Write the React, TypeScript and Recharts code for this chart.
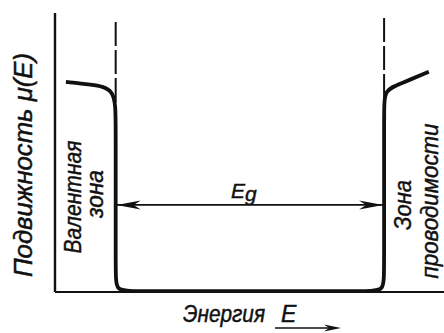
import { ComposedChart, Line, XAxis, YAxis, ReferenceLine } from "recharts";

// mobility curve control points (energy in arbitrary units 0..100)
const energy = [2.8, 9.0, 15.6, 15.6, 15.6, 15.6, 20.1, 80.2, 84.6, 84.6, 84.6, 84.6, 88.7, 96.1];
const mobility = [75.3, 74.4, 73.1, 61.6, 6.8, 0.3, 0.3, 0.3, 0.3, 6.8, 65.2, 72.4, 74.6, 78.9];

// valence band top / conduction band bottom
const bandEdges = [15.6, 84.6];
const dashTops = [96.8, 98.2];
const gapLevel = 31.2;

const data = energy.map((e, i) => ({ energy: e, mu: mobility[i] }));

const INK = "#111";
const FONT = "'Liberation Sans', 'DejaVu Sans', sans-serif";
const textStyle = {
  fontFamily: FONT,
  fontStyle: "italic" as const,
  fill: INK,
  stroke: INK,
  strokeWidth: 0.45,
};

function GapArrow(props: any) {
  const { x1, y1, x2, y2 } = props;
  const y = (y1 + y2) / 2;
  const left = Math.min(x1, x2) + 1;
  const right = Math.max(x1, x2) - 1;
  const mid = (left + right) / 2;
  return (
    <g>
      <line x1={left} y1={y} x2={right} y2={y} stroke={INK} strokeWidth={1.7} />
      <polygon
        points={`${left},${y} ${left + 24},${y - 4.5} ${left + 17},${y} ${left + 24},${y + 4.5}`}
        fill={INK}
      />
      <polygon
        points={`${right},${y} ${right - 24},${y - 4.5} ${right - 17},${y} ${right - 24},${y + 4.5}`}
        fill={INK}
      />
      <text x={mid - 6} y={y - 7} textAnchor="middle" fontSize={21} {...textStyle}>
        E<tspan dy={3}>g</tspan>
      </text>
    </g>
  );
}

function RotLabel({ x, y, len, size, children }: any) {
  return (
    <text
      transform={`translate(${x},${y}) rotate(-90)`}
      textAnchor="middle"
      fontSize={size}
      textLength={len}
      lengthAdjust="spacingAndGlyphs"
      {...textStyle}
    >
      {children}
    </text>
  );
}

export default function App() {
  return (
    <div style={{ position: "absolute", left: 0, top: 0, background: "#fff" }}>
      <ComposedChart
        width={444}
        height={333}
        data={data}
        margin={{ top: 13, right: 0, bottom: 41, left: 55 }}
      >
        <XAxis type="number" dataKey="energy" domain={[0, 100]} hide />
        <YAxis type="number" domain={[0, 100]} hide />
        {/* axes drawn as plain lines along the plot edges */}
        <ReferenceLine y={0} stroke={INK} strokeWidth={2} />
        <ReferenceLine x={0} stroke={INK} strokeWidth={2.4} />
        {bandEdges.map((e, i) => (
          <ReferenceLine
            key={i}
            segment={[
              { x: e, y: dashTops[i] },
              { x: e, y: 60 },
            ]}
            stroke={INK}
            strokeWidth={2}
            strokeDasharray="24 4"
          />
        ))}
        <Line
          type="basis"
          dataKey="mu"
          stroke={INK}
          strokeWidth={3.8}
          dot={false}
          isAnimationActive={false}
        />
        <ReferenceLine
          segment={[
            { x: bandEdges[0], y: gapLevel },
            { x: bandEdges[1], y: gapLevel },
          ]}
          shape={GapArrow}
        />
        <RotLabel x={32} y={165} len={224} size={25}>
          Подвижность μ(E)
        </RotLabel>
        <RotLabel x={81} y={197} len={113} size={23}>
          Валентная
        </RotLabel>
        <RotLabel x={103} y={194} len={48} size={23}>
          зона
        </RotLabel>
        <RotLabel x={411} y={205} len={50} size={23}>
          Зона
        </RotLabel>
        <RotLabel x={438} y={201} len={155} size={23}>
          проводимости
        </RotLabel>
        <text x={183} y={322} fontSize={23} textLength={82} lengthAdjust="spacingAndGlyphs" {...textStyle}>
          Энергия
        </text>
        <text x={281} y={322} fontSize={23} {...textStyle}>
          E
        </text>
        <line x1={275} y1={328} x2={330} y2={328} stroke={INK} strokeWidth={1.7} />
        <polygon points="341,328 324,324.5 329,328 324,331.5" fill={INK} />
      </ComposedChart>
    </div>
  );
}
